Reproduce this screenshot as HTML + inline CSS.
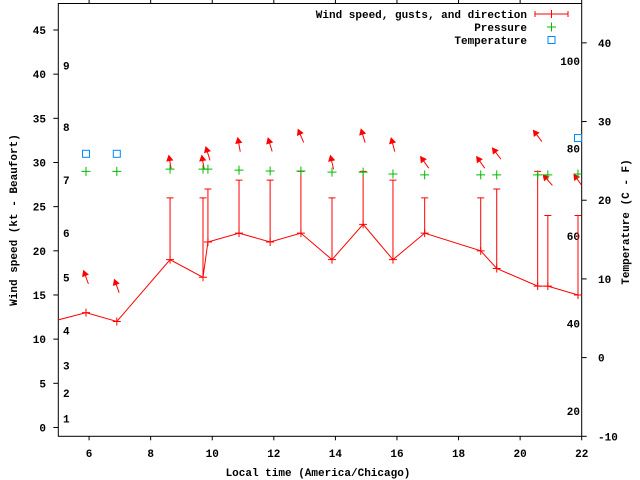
<!DOCTYPE html>
<html><head><meta charset="utf-8"><style>
html,body{margin:0;padding:0;background:#fff;}
svg{display:block;font-family:"Liberation Mono",monospace;font-weight:bold;font-size:11px;}
</style></head><body>
<svg id="chart" width="640" height="480" viewBox="0 0 640 480" xmlns="http://www.w3.org/2000/svg">
<rect width="640" height="480" fill="#fff"/>
<g id="axes"></g>
<g id="series"></g>
<g id="legend">
 <text x="527" y="18" text-anchor="end">Wind speed, gusts, and direction</text>
 <g stroke="#f00" fill="none"><line x1="535" y1="14" x2="568" y2="14"/><line x1="535" y1="11" x2="535" y2="17"/><line x1="568" y1="11" x2="568" y2="17"/><line x1="551.5" y1="10" x2="551.5" y2="18"/></g>
 <text x="527" y="31" text-anchor="end">Pressure</text>
 <g stroke="#0b0"><line x1="547" y1="27" x2="556" y2="27"/><line x1="551.5" y1="22.5" x2="551.5" y2="31.5"/></g>
 <text x="527" y="44" text-anchor="end">Temperature</text>
 <rect x="548" y="36.5" width="7" height="7" fill="none" stroke="#08f"/>
</g>
</svg>
<script>
const times   = [4.8, 5.9, 6.9, 8.63, 9.7, 9.86, 10.87, 11.88, 12.88, 13.89, 14.9, 15.87, 16.9, 18.72, 19.24, 20.57, 20.9, 21.88];
const speeds  = [12, 13, 12, 19, 17, 21, 22, 21, 22, 19, 23, 19, 22, 20, 18, 16, 16, 15];
const gusts   = [0, 0, 0, 26, 26, 27, 28, 28, 29, 26, 29, 28, 26, 26, 27, 29, 24, 24];
const dirs    = [160, 160, 160, 170, 170, 163, 170, 163, 157, 167, 163, 165, 145, 145, 143, 143, 139, 145];
const pressTimes = [5.9, 6.9, 8.63, 9.7, 9.86, 10.87, 11.88, 12.88, 13.89, 14.9, 15.87, 16.9, 18.72, 19.24, 20.57, 20.9, 21.88];
const pressures  = [29.0, 29.0, 29.25, 29.25, 29.25, 29.14, 29.03, 29.03, 28.91, 28.91, 28.69, 28.6, 28.6, 28.6, 28.6, 28.6, 28.69];
const tempTimes = [5.9, 6.9, 21.88];
const temps     = [25.9, 25.9, 27.9];
const xTicks  = [6, 8, 10, 12, 14, 16, 18, 20, 22];
const yTicks  = [0, 5, 10, 15, 20, 25, 30, 35, 40, 45];
const y2Ticks = [-10, 0, 10, 20, 30, 40];
const beaufortLabels = ["1","2","3","4","5","6","7","8","9"];
const beaufortSpeeds = [1, 3.9, 7, 11, 17, 22, 28, 34, 41];
const fLabels = ["20","40","60","80","100"];
const fValues = [20, 40, 60, 80, 100];

const L=58.3,R=581.7,T=3.5,B=436.3;
const X=t=>L+(t-5)/(22-5)*(R-L);
const Y=v=>B-(v+1)/(48+1)*(B-T);
const Y2=c=>B-(c+10)/(45+10)*(B-T);
const YF=f=>411-(f-20)*4.375;
const NS="http://www.w3.org/2000/svg";
function mk(tag,attrs,parent,txt){const e=document.createElementNS(NS,tag);for(const k in attrs)e.setAttribute(k,attrs[k]);if(txt!==undefined)e.textContent=txt;parent.appendChild(e);return e;}
const ax=document.getElementById('axes'), se=document.getElementById('series');

let e=mk('rect',{x:L,y:T,width:R-L,height:B-T,fill:'none',stroke:'#000'},ax);


xTicks.forEach(t=>{const x=X(t);
 mk('line',{x1:x,y1:B,x2:x,y2:B+4,stroke:'#000'},ax);
 mk('line',{x1:x,y1:T,x2:x,y2:T-4,stroke:'#000'},ax);
 const l=mk('text',{x:x,y:457,'text-anchor':'middle'},ax,String(t));
 
 
});
yTicks.forEach(v=>{const y=Y(v);
 mk('line',{x1:L-5,y1:y,x2:L,y2:y,stroke:'#000'},ax);
 const l=mk('text',{x:46,y:y+4,'text-anchor':'end'},ax,String(v));
 
 
});
y2Ticks.forEach(v=>{const y=Y2(v);
 mk('line',{x1:R,y1:y,x2:R+5,y2:y,stroke:'#000'},ax);
 const l=mk('text',{x:598,y:y+4,'text-anchor':'start'},ax,String(v));
 
 
});
beaufortLabels.forEach((s,i)=>{
 const l=mk('text',{x:63,y:Y(beaufortSpeeds[i])+4},ax,s);
 
 
});
fLabels.forEach((s,i)=>{
 const l=mk('text',{x:580,y:YF(fValues[i])+4,'text-anchor':'end'},ax,s);
 
 
});
e=mk('text',{x:318,y:476,'text-anchor':'middle'},ax,'Local time (America/Chicago)');


e=mk('text',{x:0,y:0,'text-anchor':'middle',transform:'translate(17,220) rotate(-90)'},ax,'Wind speed (kt - Beaufort)');


e=mk('text',{x:0,y:0,'text-anchor':'middle',transform:'translate(629,222) rotate(-90)'},ax,'Temperature (C - F)');



// clip
const defs=mk('defs',{},se);const cp=mk('clipPath',{id:'clip'},defs);mk('rect',{x:L,y:T,width:R-L,height:B-T},cp);
const g=mk('g',{'clip-path':'url(#clip)'},se);

// wind line
e=mk('polyline',{points:times.map((t,i)=>X(t)+','+Y(speeds[i])).join(' '),fill:'none',stroke:'#f00'},g);


times.forEach((t,i)=>{const x=X(t),y=Y(speeds[i]);
 const m=mk('path',{d:`M${x-4},${y}H${x+4}M${x},${y-4}V${y+4}`,stroke:'#f00'},g);
 
 
 if(gusts[i]>speeds[i]){const yg=Y(gusts[i]);
  const b=mk('path',{d:`M${x},${y}V${yg}M${x-3.5},${yg}H${x+3.5}`,stroke:'#f00',fill:'none'},g);
  
  
 }
 const top=Math.max(gusts[i],speeds[i])+4;
 const cx=x,cy=Y(top);
 const a=(dirs[i]+180)*Math.PI/180;
 const dx=Math.sin(a),dy=-Math.cos(a),h=7;
 const tx=cx+dx*h,ty=cy+dy*h,bx=cx-dx*h,by=cy-dy*h;
 const px=-dy,py=dx;
 const ar=mk('g',{},g);
 
 
 mk('line',{x1:bx,y1:by,x2:tx,y2:ty,stroke:'#f00'},ar);
 const hb=5,hw=2.8;
 mk('polygon',{points:`${tx},${ty} ${tx-dx*hb+px*hw},${ty-dy*hb+py*hw} ${tx-dx*hb-px*hw},${ty-dy*hb-py*hw}`,fill:'#f00',stroke:'#f00'},ar);
});
pressTimes.forEach((t,i)=>{const x=X(t),y=Y(pressures[i]);
 const m=mk('path',{d:`M${x-4.5},${y}H${x+4.5}M${x},${y-4.5}V${y+4.5}`,stroke:'#0b0'},g);
 
 
});
tempTimes.forEach((t,i)=>{const x=X(t),y=Y2(temps[i]);
 const m=mk('rect',{x:x-3.5,y:y-3.5,width:7,height:7,fill:'none',stroke:'#08f'},se);
 
 
});
</script>
</body></html>
